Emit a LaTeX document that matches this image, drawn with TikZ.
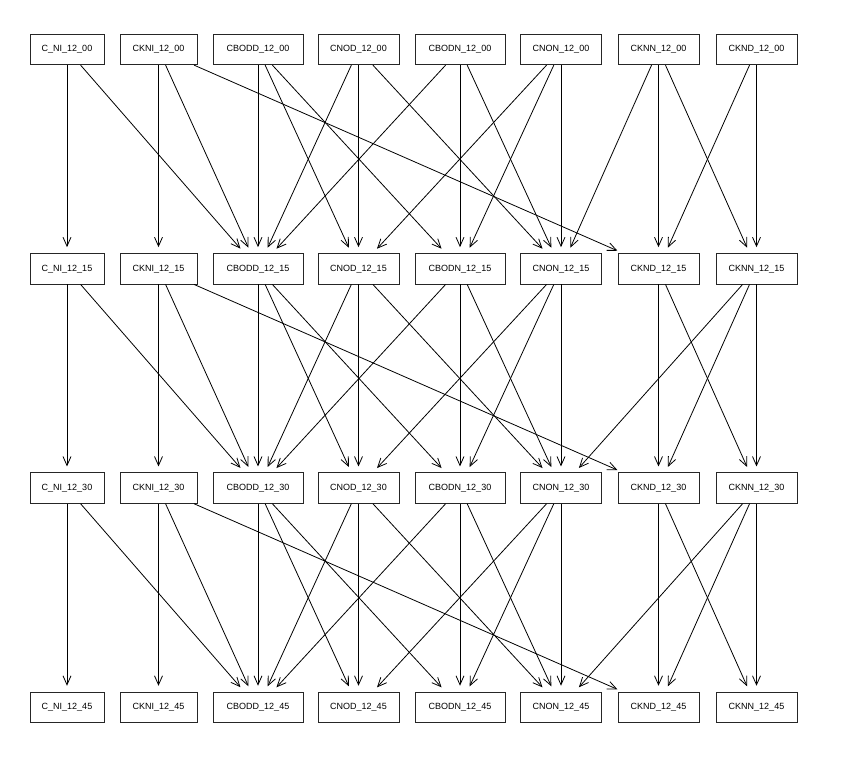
\documentclass[tikz,border=0pt]{standalone}
\usepackage{fontspec}
\setmainfont{Liberation Sans}
\usetikzlibrary{arrows.meta}
\begin{document}
\begin{tikzpicture}[x=1pt,y=-1pt,
  box/.style={draw=black!85, line width=0.8pt, minimum height=30.5pt, inner sep=0pt,
    font=\fontsize{9}{10}\selectfont},
  edge/.style={draw=black, line width=0.8pt, shorten >=6pt,
    -{Straight Barb[length=9pt,width=8pt,line width=0.8pt]}}]
\useasboundingbox (0,0) rectangle (844,768);
% top row (12_00)
\foreach \n/\lab/\w/\x in {CNI/C\_NI/74/67, CKNI/CKNI/77/158.5, CBODD/CBODD/90/258,
    CNOD/CNOD/81/358.5, CBODN/CBODN/90/460, CNON/CNON/81/561,
    CKNN/CKNN/81/658.5, CKND/CKND/81/756.5}
  \node[box, minimum width=\w pt] (\n-0) at (\x,49.5) {\lab\_12\_00};
% rows 12_15, 12_30, 12_45
\foreach \r/\tm/\y in {1/15/268.8, 2/30/488.1, 3/45/707.4}
  \foreach \n/\lab/\w/\x in {CNI/C\_NI/74/67, CKNI/CKNI/77/158.5, CBODD/CBODD/90/258,
      CNOD/CNOD/81/358.5, CBODN/CBODN/90/460, CNON/CNON/81/561,
      CKND/CKND/81/658.5, CKNN/CKNN/81/756.5}
    \node[box, minimum width=\w pt] (\n-\r) at (\x,\y) {\lab\_12\_\tm};
% edges between consecutive time slices
\foreach \a/\b in {0/1, 1/2, 2/3}
  \foreach \s/\t in {CNI/CNI, CNI/CBODD, CKNI/CKNI, CKNI/CBODD, CKNI/CKND,
      CBODD/CBODD, CBODD/CNOD, CBODD/CBODN, CNOD/CBODD, CNOD/CNOD, CNOD/CNON,
      CBODN/CBODD, CBODN/CBODN, CBODN/CNON, CNON/CNOD, CNON/CBODN, CNON/CNON,
      CKNN/CNON, CKNN/CKND, CKNN/CKNN, CKND/CKND, CKND/CKNN}
    \draw[edge] (\s-\a) -- (\t-\b);
\end{tikzpicture}
\end{document}
